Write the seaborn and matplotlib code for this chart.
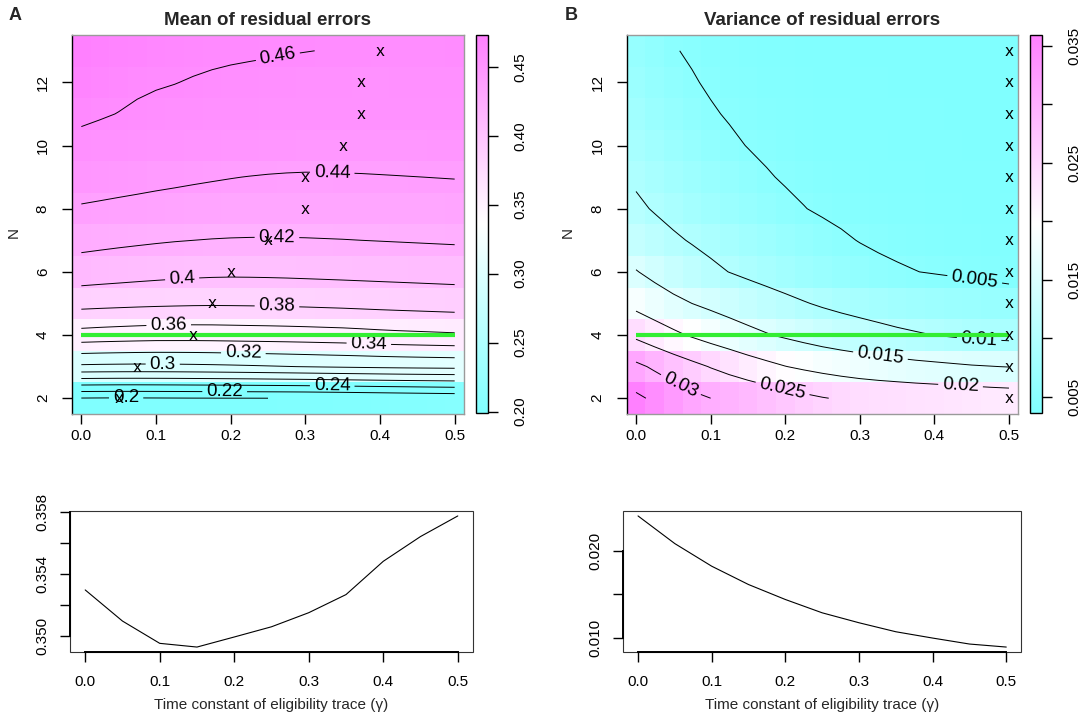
import matplotlib

matplotlib.use("Agg")
import matplotlib.pyplot as plt
import numpy as np
import seaborn as sns
from matplotlib.colors import LinearSegmentedColormap
from matplotlib.patches import Rectangle

# grid of the surfaces: eligibility-trace time constant (columns) x N (rows)
gamma = [0.0, 0.025, 0.05, 0.075, 0.1, 0.125, 0.15, 0.175, 0.2, 0.225, 0.25,
         0.275, 0.3, 0.325, 0.35, 0.375, 0.4, 0.425, 0.45, 0.475, 0.5]
n_values = [2, 3, 4, 5, 6, 7, 8, 9, 10, 11, 12, 13]

mean_errors = [
    [0.1995, 0.1992, 0.1990, 0.1991, 0.1993, 0.1995, 0.1997, 0.1998, 0.1999, 0.1999, 0.2000,
     0.2001, 0.2003, 0.2008, 0.2013, 0.2020, 0.2027, 0.2034, 0.2041, 0.2048, 0.2055],
    [0.2965, 0.2960, 0.2957, 0.2955, 0.2956, 0.2958, 0.2962, 0.2967, 0.2973, 0.2980, 0.2988,
     0.2996, 0.3004, 0.3012, 0.3019, 0.3026, 0.3033, 0.3039, 0.3044, 0.3048, 0.3052],
    [0.3530, 0.3519, 0.3510, 0.3502, 0.3495, 0.3494, 0.3493, 0.3495, 0.3499, 0.3503, 0.3506,
     0.3510, 0.3515, 0.3521, 0.3527, 0.3537, 0.3548, 0.3557, 0.3564, 0.3571, 0.3578],
    [0.3860, 0.3852, 0.3845, 0.3838, 0.3832, 0.3827, 0.3823, 0.3821, 0.3822, 0.3824, 0.3827,
     0.3831, 0.3836, 0.3842, 0.3848, 0.3855, 0.3862, 0.3868, 0.3874, 0.3880, 0.3886],
    [0.4110, 0.4097, 0.4085, 0.4073, 0.4062, 0.4052, 0.4044, 0.4038, 0.4035, 0.4036, 0.4038,
     0.4041, 0.4045, 0.4049, 0.4053, 0.4057, 0.4061, 0.4065, 0.4069, 0.4073, 0.4077],
    [0.4258, 0.4247, 0.4236, 0.4226, 0.4216, 0.4207, 0.4200, 0.4194, 0.4190, 0.4188, 0.4187,
     0.4188, 0.4190, 0.4193, 0.4196, 0.4200, 0.4204, 0.4208, 0.4212, 0.4216, 0.4220],
    [0.4385, 0.4375, 0.4365, 0.4356, 0.4347, 0.4340, 0.4333, 0.4328, 0.4323, 0.4320, 0.4318,
     0.4316, 0.4315, 0.4316, 0.4317, 0.4318, 0.4319, 0.4320, 0.4322, 0.4323, 0.4325],
    [0.4485, 0.4474, 0.4463, 0.4452, 0.4441, 0.4431, 0.4421, 0.4412, 0.4404, 0.4397, 0.4391,
     0.4387, 0.4385, 0.4386, 0.4388, 0.4390, 0.4393, 0.4396, 0.4399, 0.4402, 0.4405],
    [0.4555, 0.4547, 0.4540, 0.4532, 0.4525, 0.4518, 0.4512, 0.4506, 0.4500, 0.4495, 0.4490,
     0.4485, 0.4481, 0.4478, 0.4477, 0.4478, 0.4479, 0.4481, 0.4483, 0.4485, 0.4487],
    [0.4630, 0.4612, 0.4597, 0.4585, 0.4576, 0.4569, 0.4563, 0.4558, 0.4554, 0.4551, 0.4548,
     0.4545, 0.4543, 0.4541, 0.4540, 0.4539, 0.4540, 0.4541, 0.4542, 0.4544, 0.4546],
    [0.4680, 0.4662, 0.4640, 0.4617, 0.4608, 0.4602, 0.4594, 0.4586, 0.4578, 0.4571, 0.4565,
     0.4560, 0.4556, 0.4552, 0.4549, 0.4547, 0.4548, 0.4549, 0.4550, 0.4551, 0.4552],
    [0.4730, 0.4708, 0.4686, 0.4666, 0.4648, 0.4634, 0.4625, 0.4621, 0.4618, 0.4615, 0.4611,
     0.4606, 0.4602, 0.4598, 0.4594, 0.4591, 0.4588, 0.4589, 0.4589, 0.4590, 0.4591],
]

var_errors = [
    [0.0359, 0.0342, 0.0325, 0.0311, 0.0300, 0.0294, 0.0287, 0.0278, 0.0269, 0.0260, 0.0252,
     0.0246, 0.0241, 0.0239, 0.0237, 0.0235, 0.0233, 0.0231, 0.0229, 0.0226, 0.0224],
    [0.0310, 0.0293, 0.0277, 0.0262, 0.0248, 0.0235, 0.0222, 0.0211, 0.0201, 0.0193, 0.0186,
     0.0180, 0.0175, 0.0170, 0.0166, 0.0162, 0.0159, 0.0156, 0.0153, 0.0151, 0.0149],
    [0.02408, 0.02243, 0.02088, 0.01953, 0.01827, 0.01717, 0.01615, 0.01525, 0.01442, 0.01362, 0.01288,
     0.01228, 0.01173, 0.01119, 0.01069, 0.01031, 0.00996, 0.00960, 0.00927, 0.00908, 0.00892],
    [0.01870, 0.01725, 0.01602, 0.01500, 0.01408, 0.01322, 0.01242, 0.01167, 0.01093, 0.01022, 0.00957,
     0.00902, 0.00857, 0.00820, 0.00788, 0.00760, 0.00735, 0.00712, 0.00691, 0.00671, 0.00652],
    [0.01520, 0.01385, 0.01262, 0.01160, 0.01072, 0.00995, 0.00924, 0.00858, 0.00796, 0.00738, 0.00684,
     0.00635, 0.00592, 0.00556, 0.00527, 0.00504, 0.00484, 0.00465, 0.00446, 0.00426, 0.00405],
    [0.01230, 0.01135, 0.01050, 0.00975, 0.00906, 0.00842, 0.00783, 0.00728, 0.00670, 0.00620, 0.00573,
     0.00530, 0.00492, 0.00463, 0.00442, 0.00427, 0.00415, 0.00406, 0.00399, 0.00393, 0.00388],
    [0.01060, 0.00975, 0.00895, 0.00822, 0.00756, 0.00696, 0.00641, 0.00591, 0.00546, 0.00506, 0.00472,
     0.00447, 0.00429, 0.00416, 0.00406, 0.00399, 0.00393, 0.00388, 0.00384, 0.00381, 0.00378],
    [0.00950, 0.00870, 0.00798, 0.00732, 0.00670, 0.00614, 0.00563, 0.00517, 0.00480, 0.00452, 0.00432,
     0.00417, 0.00406, 0.00398, 0.00392, 0.00387, 0.00383, 0.00380, 0.00377, 0.00375, 0.00373],
    [0.00860, 0.00780, 0.00708, 0.00643, 0.00585, 0.00535, 0.00494, 0.00462, 0.00438, 0.00421, 0.00408,
     0.00399, 0.00392, 0.00387, 0.00383, 0.00380, 0.00377, 0.00375, 0.00373, 0.00371, 0.00370],
    [0.00780, 0.00700, 0.00630, 0.00570, 0.00520, 0.00483, 0.00455, 0.00434, 0.00419, 0.00407, 0.00398,
     0.00391, 0.00386, 0.00382, 0.00379, 0.00376, 0.00374, 0.00372, 0.00370, 0.00369, 0.00368],
    [0.00710, 0.00633, 0.00571, 0.00516, 0.00476, 0.00447, 0.00426, 0.00411, 0.00400, 0.00392, 0.00386,
     0.00381, 0.00378, 0.00375, 0.00373, 0.00371, 0.00369, 0.00368, 0.00367, 0.00366, 0.00365],
    [0.00650, 0.00578, 0.00512, 0.00477, 0.00447, 0.00425, 0.00409, 0.00397, 0.00389, 0.00383, 0.00378,
     0.00375, 0.00372, 0.00370, 0.00368, 0.00366, 0.00365, 0.00364, 0.00363, 0.00362, 0.00361],
]

# gamma giving the smallest error for each N (the "x" marks)
mean_best_gamma = [0.05, 0.075, 0.15, 0.175, 0.2, 0.25, 0.3, 0.3, 0.35, 0.375, 0.375, 0.4]
var_best_gamma = [0.5, 0.5, 0.5, 0.5, 0.5, 0.5, 0.5, 0.5, 0.5, 0.5, 0.5, 0.5]
highlight_n = 4

# cross-section at N = 4
trace_gamma = [0.0, 0.05, 0.1, 0.15, 0.2, 0.25, 0.3, 0.35, 0.4, 0.45, 0.5]
mean_at_n4 = [0.35298, 0.35097, 0.34953, 0.34929, 0.34994, 0.35060,
              0.35151, 0.35268, 0.35483, 0.35643, 0.35776]
var_at_n4 = [0.02408, 0.02088, 0.01827, 0.01615, 0.01442, 0.01288,
             0.01173, 0.01069, 0.00996, 0.00927, 0.00892]

mean_levels = [0.20, 0.22, 0.24, 0.26, 0.28, 0.30, 0.32, 0.34, 0.36, 0.38, 0.40, 0.42, 0.44, 0.46]
var_levels = [0.005, 0.010, 0.015, 0.020, 0.025, 0.030, 0.035]

CM_COLORS = LinearSegmentedColormap.from_list("cm_colors", ["#80FFFF", "#FFFFFF", "#FF80FF"])
GREEN = "#33EE33"
W, H = 1086, 720


def fig_rect(left, top, right, bottom):
    return [left / W, 1 - bottom / H, (right - left) / W, (bottom - top) / H]


def r_limits(values, frac=0.04):
    lo, hi = min(values), max(values)
    pad = (hi - lo) * frac
    return lo - pad, hi + pad


def draw_surface(fig, ax, cax, z, levels, labels, best_gamma,
                 title, cbar_ticks, cbar_labels):
    z = np.array(z)
    step = gamma[1] - gamma[0]
    mesh = ax.pcolormesh(gamma, n_values, z, cmap=CM_COLORS, shading="nearest",
                         vmin=z.min(), vmax=z.max(), rasterized=True)

    # unlabelled levels in one go, labelled ones one by one (label cuts its own line)
    plain = [lev for lev in levels if lev not in labels]
    if plain:
        ax.contour(gamma, n_values, z, levels=plain, colors="black", linewidths=0.7)
    for lev, pos in labels.items():
        cs = ax.contour(gamma, n_values, z, levels=[lev], colors="black", linewidths=0.7)
        ax.clabel(cs, inline=True, inline_spacing=4, fmt=lambda v: f"{v:g}",
                  fontsize=13.5, manual=[pos])

    ax.hlines(highlight_n, gamma[0], gamma[-1], colors=GREEN, linewidth=3, zorder=4)
    sns.scatterplot(x=best_gamma, y=n_values, marker="$\\mathregular{x}$", s=42,
                    color="black", linewidth=0, ax=ax, zorder=5, legend=False)

    ax.set_xlim(gamma[0] - step / 2, gamma[-1] + step / 2)
    ax.set_ylim(n_values[0] - 0.5, n_values[-1] + 0.5)
    ax.set_xticks([0.0, 0.1, 0.2, 0.3, 0.4, 0.5])
    ax.set_xticklabels(["0.0", "0.1", "0.2", "0.3", "0.4", "0.5"])
    ax.set_yticks([2, 4, 6, 8, 10, 12])
    ax.tick_params(axis="x", length=7, width=1, pad=4, labelsize=11)
    ax.tick_params(axis="y", length=7, width=1, pad=9, labelsize=11)
    for lab in ax.get_yticklabels():
        lab.set_rotation(90)
        lab.set_va("center")
    for side in ["top", "right", "bottom"]:
        ax.spines[side].set_color("#9a9a9a")
        ax.spines[side].set_linewidth(1)
    ax.spines["left"].set_color("black")
    ax.spines["left"].set_linewidth(1)
    ax.set_xlabel("")
    ax.set_ylabel("N", fontsize=11)
    ax.yaxis.set_label_coords(-0.132, 0.48)
    ax.set_title(title, fontsize=13.5, fontweight="bold", pad=7)

    cb = fig.colorbar(mesh, cax=cax)
    cb.set_ticks(cbar_ticks)
    cb.set_ticklabels(cbar_labels)
    cb.outline.set_linewidth(1)
    cb.outline.set_edgecolor("black")
    cax.tick_params(length=7, width=1, pad=11, labelsize=11)
    for lab in cax.get_yticklabels():
        lab.set_rotation(90)
        lab.set_va("center")


def draw_profile(ax, y, yticks, ylabels):
    sns.lineplot(x=trace_gamma, y=y, color="black", linewidth=0.8, ax=ax)
    ax.set_xlim(*r_limits(trace_gamma))
    ax.set_ylim(*r_limits(y))
    ax.set_xticks([0.0, 0.1, 0.2, 0.3, 0.4, 0.5])
    ax.set_xticklabels(["0.0", "0.1", "0.2", "0.3", "0.4", "0.5"])
    ax.set_yticks(yticks)
    ax.set_yticklabels(ylabels)
    ax.tick_params(axis="x", length=7, width=1, pad=9, labelsize=11)
    ax.tick_params(axis="y", length=7, width=1, pad=8, labelsize=11)
    for lab in ax.get_yticklabels():
        lab.set_rotation(90)
        lab.set_va("center")
    for side in ["top", "right"]:
        ax.spines[side].set_visible(False)
    ax.spines["left"].set_bounds(yticks[0], yticks[-1])
    ax.spines["bottom"].set_bounds(0.0, 0.5)
    ax.spines["left"].set_linewidth(1.4)
    ax.spines["bottom"].set_linewidth(1.4)
    ax.add_patch(Rectangle((0, 0), 1, 1, transform=ax.transAxes, fill=False,
                           edgecolor="#333333", linewidth=0.8, clip_on=False))
    ax.set_ylabel("")
    ax.set_xlabel("Time constant of eligibility trace (\u03b3)", fontsize=11)
    ax.xaxis.set_label_coords(0.5, -0.375)
    ax.xaxis.label.set_va("center")


def main() -> None:
    sns.set_theme(style="ticks")
    plt.rcParams["font.family"] = ["Liberation Sans", "DejaVu Sans"]
    plt.rcParams["axes.edgecolor"] = "black"
    plt.rcParams["xtick.color"] = "black"
    plt.rcParams["ytick.color"] = "black"

    fig = plt.figure(figsize=(W / 100, H / 100), dpi=100)

    ax_a = fig.add_axes(fig_rect(72, 35, 464, 414))
    cax_a = fig.add_axes(fig_rect(475.5, 35, 488.3, 413))
    ax_b = fig.add_axes(fig_rect(626.7, 35, 1018.3, 414))
    cax_b = fig.add_axes(fig_rect(1030, 35, 1042.3, 413))
    ax_c = fig.add_axes(fig_rect(70.3, 510.7, 472.7, 652.3))
    ax_d = fig.add_axes(fig_rect(623.3, 510.7, 1021, 652.3))

    mean_labels = {0.20: (0.06, 2.02), 0.22: (0.192, 2.23), 0.24: (0.336, 2.37),
                   0.30: (0.109, 3.07), 0.32: (0.217, 3.42), 0.34: (0.385, 3.71),
                   0.36: (0.117, 4.31), 0.38: (0.262, 4.91), 0.40: (0.135, 5.79),
                   0.42: (0.262, 7.05), 0.44: (0.336, 9.1), 0.46: (0.263, 12.84)}
    draw_surface(fig, ax_a, cax_a, mean_errors, mean_levels, mean_labels,
                 mean_best_gamma, "Mean of residual errors",
                 [0.20, 0.25, 0.30, 0.35, 0.40, 0.45],
                 ["0.20", "0.25", "0.30", "0.35", "0.40", "0.45"])

    var_labels = {0.005: (0.453, 5.58), 0.010: (0.46, 3.9), 0.015: (0.3275, 3.31),
                  0.020: (0.435, 2.37), 0.025: (0.196, 2.26), 0.030: (0.06, 2.42)}
    draw_surface(fig, ax_b, cax_b, var_errors, var_levels, var_labels,
                 var_best_gamma, "Variance of residual errors",
                 [0.005, 0.010, 0.015, 0.020, 0.025, 0.030, 0.035],
                 ["0.005", "", "0.015", "", "0.025", "", "0.035"])

    draw_profile(ax_c, mean_at_n4, [0.350, 0.352, 0.354, 0.356, 0.358],
                 ["0.350", "", "0.354", "", "0.358"])
    draw_profile(ax_d, var_at_n4, [0.010, 0.015, 0.020], ["0.010", "", "0.020"])

    fig.text(15 / W, 1 - 16 / H, "A", fontsize=13, fontweight="bold", ha="center", va="center")
    fig.text(571 / W, 1 - 16 / H, "B", fontsize=13, fontweight="bold", ha="center", va="center")

    fig.savefig("out.png", dpi=100)
    plt.close(fig)


if __name__ == "__main__":
    main()
